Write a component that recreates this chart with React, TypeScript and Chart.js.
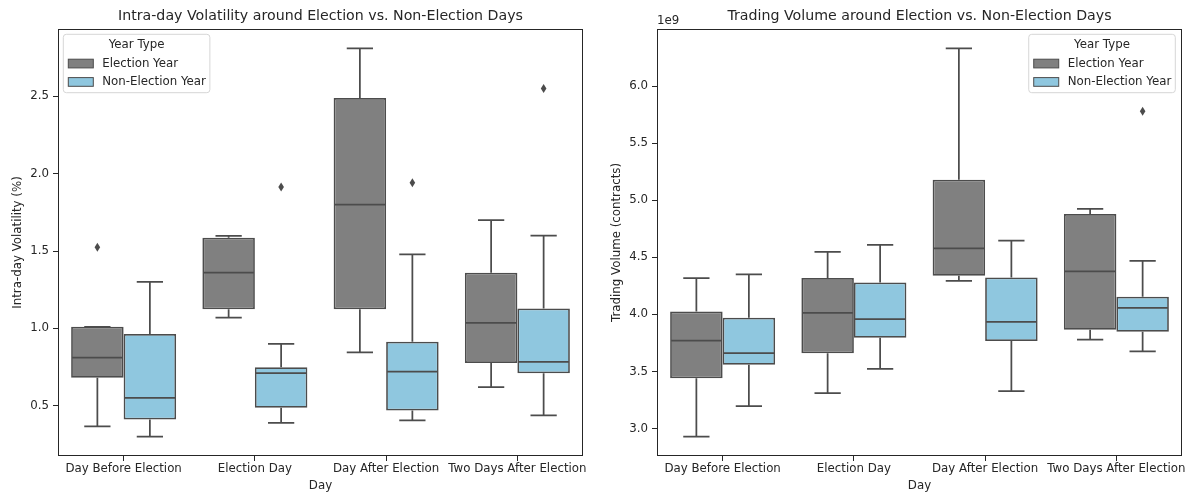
import React, { useEffect, useRef } from "react";
import { Chart, registerables } from "chart.js";

Chart.register(...registerables);

// ---------- DATA ----------
const CATEGORIES = [
  "Day Before Election",
  "Election Day",
  "Day After Election",
  "Two Days After Election",
];
const SERIES_LABELS = ["Election Year", "Non-Election Year"];

// Intra-day volatility (%) — Election Year
const VOL_ELEC_LOW = [0.366, 1.07, 0.845, 0.62];
const VOL_ELEC_Q1 = [0.68, 1.124, 1.124, 0.776];
const VOL_ELEC_MED = [0.81, 1.36, 1.8, 1.036];
const VOL_ELEC_Q3 = [1.01, 1.585, 2.49, 1.36];
const VOL_ELEC_HIGH = [1.01, 1.598, 2.81, 1.7];
const VOL_ELEC_OUT = [[1.525], [], [], []];
// Intra-day volatility (%) — Non-Election Year
const VOL_NON_LOW = [0.3, 0.388, 0.405, 0.437];
const VOL_NON_Q1 = [0.41, 0.487, 0.468, 0.709];
const VOL_NON_MED = [0.55, 0.71, 0.72, 0.783];
const VOL_NON_Q3 = [0.964, 0.748, 0.914, 1.128];
const VOL_NON_HIGH = [1.3, 0.9, 1.478, 1.6];
const VOL_NON_OUT = [[], [1.914], [1.942], [2.55]];

// Trading volume (contracts, in units of 1e9) — Election Year
const TV_ELEC_LOW = [2.93, 3.31, 4.294, 3.78];
const TV_ELEC_Q1 = [3.44, 3.66, 4.338, 3.866];
const TV_ELEC_MED = [3.77, 4.013, 4.578, 4.376];
const TV_ELEC_Q3 = [4.025, 4.318, 5.18, 4.88];
const TV_ELEC_HIGH = [4.318, 4.547, 6.33, 4.924];
const TV_ELEC_OUT = [[], [], [], []];
// Trading volume (contracts, in units of 1e9) — Non-Election Year
const TV_NON_LOW = [3.196, 3.524, 3.328, 3.677];
const TV_NON_Q1 = [3.56, 3.796, 3.767, 3.849];
const TV_NON_MED = [3.66, 3.958, 3.934, 4.057];
const TV_NON_Q3 = [3.97, 4.28, 4.323, 4.154];
const TV_NON_HIGH = [4.35, 4.61, 4.646, 4.47];
const TV_NON_OUT = [[], [], [], [5.78]];

const VOL_TICKS = [0.5, 1.0, 1.5, 2.0, 2.5];
const TV_TICKS = [3.0, 3.5, 4.0, 4.5, 5.0, 5.5, 6.0];

// ---------- STYLE ----------
const FONT = "'DejaVu Sans', 'Liberation Sans', sans-serif";
const TEXT = "#262626";
const LINE = "#4c4c4c";
const COLORS = ["#808080", "#8fc7df"];

type Stats = {
  low: number[];
  q1: number[];
  med: number[];
  q3: number[];
  high: number[];
  out: number[][];
};

type Cfg = {
  title: string;
  yTitle: string;
  stats: Stats[];
  yMin: number;
  yMax: number;
  ticks: number[];
  yAxisWidth: number;
  yTitlePad: number;
  padRight: number;
  legendSide: "left" | "right";
  offsetText?: string;
};

const boxPlugin = {
  id: "boxExtras",
  afterDatasetsDraw(chart: any, _args: any, opts: any) {
    const cfg: Cfg = opts.cfg;
    const ctx = chart.ctx;
    const ys = chart.scales.y;
    const py = (v: number) => ys.getPixelForValue(v);
    cfg.stats.forEach((s, di) => {
      const meta = chart.getDatasetMeta(di);
      meta.data.forEach((el: any, i: number) => {
        const x = el.x;
        const w = el.width;
        const cap = w / 4;
        ctx.save();
        ctx.strokeStyle = LINE;
        ctx.lineWidth = 1.75;
        ctx.lineCap = "butt";
        ctx.beginPath();
        // upper whisker
        if (s.high[i] > s.q3[i]) {
          ctx.moveTo(x, py(s.q3[i]));
          ctx.lineTo(x, py(s.high[i]));
        }
        ctx.moveTo(x - cap, py(s.high[i]));
        ctx.lineTo(x + cap, py(s.high[i]));
        // lower whisker
        if (s.low[i] < s.q1[i]) {
          ctx.moveTo(x, py(s.q1[i]));
          ctx.lineTo(x, py(s.low[i]));
        }
        ctx.moveTo(x - cap, py(s.low[i]));
        ctx.lineTo(x + cap, py(s.low[i]));
        // median
        ctx.moveTo(x - w / 2 + 1, py(s.med[i]));
        ctx.lineTo(x + w / 2 - 1, py(s.med[i]));
        ctx.stroke();
        // outliers (thin diamonds)
        ctx.fillStyle = LINE;
        s.out[i].forEach((v) => {
          const oy = py(v);
          ctx.beginPath();
          ctx.moveTo(x, oy - 4.5);
          ctx.lineTo(x + 2.8, oy);
          ctx.lineTo(x, oy + 4.5);
          ctx.lineTo(x - 2.8, oy);
          ctx.closePath();
          ctx.fill();
        });
        ctx.restore();
      });
    });
  },
  afterDraw(chart: any, _args: any, opts: any) {
    const cfg: Cfg = opts.cfg;
    const ctx = chart.ctx;
    const ca = chart.chartArea;
    ctx.save();
    // frame (spines)
    ctx.strokeStyle = "#262626";
    ctx.lineWidth = 1;
    ctx.strokeRect(ca.left + 0.5, ca.top + 0.5, ca.right - ca.left - 1, ca.bottom - ca.top - 1);
    // title
    ctx.fillStyle = TEXT;
    ctx.font = `14.2px ${FONT}`;
    ctx.textAlign = "center";
    ctx.textBaseline = "middle";
    ctx.fillText(cfg.title, (ca.left + ca.right) / 2, 16.5);
    // offset text
    if (cfg.offsetText) {
      ctx.font = `11.8px ${FONT}`;
      ctx.textAlign = "left";
      ctx.fillText(cfg.offsetText, ca.left, ca.top - 8);
    }
    // legend
    ctx.font = `11.8px ${FONT}`;
    const textW = Math.max(...SERIES_LABELS.map((l) => ctx.measureText(l).width));
    const boxW = 5 + 25 + 9 + textW + 4;
    const boxH = 58.4;
    const lx = cfg.legendSide === "left" ? ca.left + 5.3 : ca.right - 6.7 - boxW;
    const ly = ca.top + 5.3;
    ctx.beginPath();
    const r = 3;
    ctx.moveTo(lx + r, ly);
    ctx.arcTo(lx + boxW, ly, lx + boxW, ly + boxH, r);
    ctx.arcTo(lx + boxW, ly + boxH, lx, ly + boxH, r);
    ctx.arcTo(lx, ly + boxH, lx, ly, r);
    ctx.arcTo(lx, ly, lx + boxW, ly, r);
    ctx.closePath();
    ctx.fillStyle = "rgba(255,255,255,0.85)";
    ctx.fill();
    ctx.strokeStyle = "#d6d6d6";
    ctx.lineWidth = 1;
    ctx.stroke();
    ctx.fillStyle = TEXT;
    ctx.textAlign = "center";
    ctx.textBaseline = "middle";
    ctx.fillText("Year Type", lx + boxW / 2, ly + 10.9);
    SERIES_LABELS.forEach((lab, k) => {
      const cy = ly + 29.2 + k * 18.4;
      ctx.fillStyle = COLORS[k];
      ctx.fillRect(lx + 5, cy - 4.3, 25, 8.7);
      ctx.strokeStyle = LINE;
      ctx.lineWidth = 1;
      ctx.strokeRect(lx + 5, cy - 4.3, 25, 8.7);
      ctx.fillStyle = TEXT;
      ctx.textAlign = "left";
      ctx.fillText(lab, lx + 39, cy);
    });
    ctx.restore();
  },
};

function buildChart(canvas: HTMLCanvasElement, cfg: Cfg) {
  const datasets = cfg.stats.map((s, k) => ({
    label: SERIES_LABELS[k],
    data: s.q1.map((q, i) => [q, s.q3[i]]),
    backgroundColor: COLORS[k],
    borderColor: LINE,
    borderWidth: 1.75,
    borderSkipped: false,
    categoryPercentage: 0.8,
    barPercentage: 1.0,
  }));
  return new Chart(canvas, {
    type: "bar",
    data: { labels: CATEGORIES, datasets: datasets as any },
    plugins: [boxPlugin as any],
    options: {
      animation: false,
      responsive: false,
      devicePixelRatio: 1,
      events: [],
      layout: { padding: { left: 0, right: cfg.padRight, top: 29, bottom: 0 } },
      plugins: {
        legend: { display: false },
        title: { display: false },
        tooltip: { enabled: false },
        boxExtras: { cfg },
      } as any,
      scales: {
        x: {
          type: "category",
          offset: true,
          grid: {
            offset: false,
            drawOnChartArea: false,
            drawTicks: true,
            tickLength: 5,
            color: "#262626",
          },
          border: { display: false },
          ticks: {
            color: TEXT,
            font: { family: FONT, size: 11.8 },
            padding: 1,
            maxRotation: 0,
            autoSkip: false,
          },
          title: {
            display: true,
            text: "Day",
            color: TEXT,
            font: { family: FONT, size: 11.8 },
            padding: { top: 0, bottom: -1 },
          },
          afterFit: (scale: any) => {
            scale.height = 36;
          },
        },
        y: {
          type: "linear",
          min: cfg.yMin,
          max: cfg.yMax,
          grid: {
            drawOnChartArea: false,
            drawTicks: true,
            tickLength: 5,
            color: "#262626",
          },
          border: { display: false },
          ticks: {
            color: TEXT,
            font: { family: FONT, size: 11.8 },
            padding: 4,
            callback: (v: any) => Number(v).toFixed(1),
          },
          afterBuildTicks: (axis: any) => {
            axis.ticks = cfg.ticks.map((v) => ({ value: v }));
          },
          title: {
            display: true,
            text: cfg.yTitle,
            color: TEXT,
            font: { family: FONT, size: 11.8 },
            padding: { top: cfg.yTitlePad, bottom: 0 },
          },
          afterFit: (scale: any) => {
            scale.width = cfg.yAxisWidth;
          },
        },
      },
    } as any,
  });
}

export default function App() {
  const leftRef = useRef<HTMLCanvasElement>(null);
  const rightRef = useRef<HTMLCanvasElement>(null);

  useEffect(() => {
    const volStats: Stats[] = [
      { low: VOL_ELEC_LOW, q1: VOL_ELEC_Q1, med: VOL_ELEC_MED, q3: VOL_ELEC_Q3, high: VOL_ELEC_HIGH, out: VOL_ELEC_OUT },
      { low: VOL_NON_LOW, q1: VOL_NON_Q1, med: VOL_NON_MED, q3: VOL_NON_Q3, high: VOL_NON_HIGH, out: VOL_NON_OUT },
    ];
    const tvStats: Stats[] = [
      { low: TV_ELEC_LOW, q1: TV_ELEC_Q1, med: TV_ELEC_MED, q3: TV_ELEC_Q3, high: TV_ELEC_HIGH, out: TV_ELEC_OUT },
      { low: TV_NON_LOW, q1: TV_NON_Q1, med: TV_NON_MED, q3: TV_NON_Q3, high: TV_NON_HIGH, out: TV_NON_OUT },
    ];
    const c1 = buildChart(leftRef.current!, {
      title: "Intra-day Volatility around Election vs. Non-Election Days",
      yTitle: "Intra-day Volatility (%)",
      stats: volStats,
      yMin: 0.1745,
      yMax: 2.9355,
      ticks: VOL_TICKS,
      yAxisWidth: 58,
      yTitlePad: 11,
      padRight: 12,
      legendSide: "left",
    });
    const c2 = buildChart(rightRef.current!, {
      title: "Trading Volume around Election vs. Non-Election Days",
      yTitle: "Trading Volume (contracts)",
      stats: tvStats,
      yMin: 2.76,
      yMax: 6.5,
      ticks: TV_TICKS,
      yAxisWidth: 62,
      yTitlePad: 14.7,
      padRight: 7,
      legendSide: "right",
      offsetText: "1e9",
    });
    return () => {
      c1.destroy();
      c2.destroy();
    };
  }, []);

  return (
    <div style={{ position: "absolute", left: 0, top: 0, width: 1189, height: 492, background: "#fff" }}>
      <canvas ref={leftRef} width={595} height={492} style={{ position: "absolute", left: 0, top: 0 }} />
      <canvas ref={rightRef} width={594} height={492} style={{ position: "absolute", left: 595, top: 0 }} />
    </div>
  );
}
